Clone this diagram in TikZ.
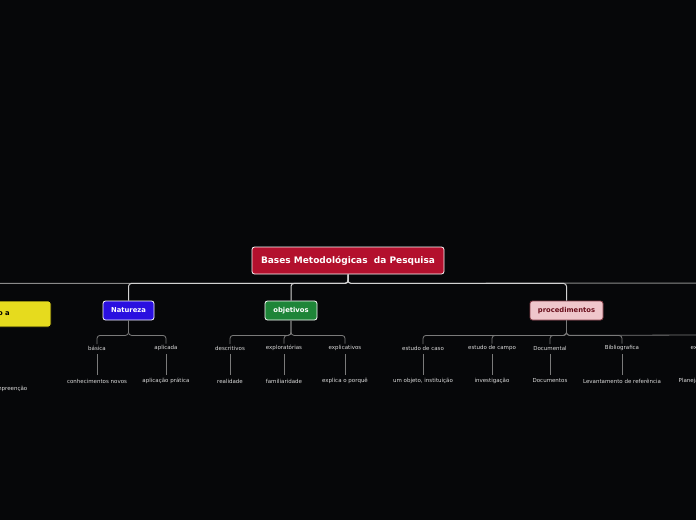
\documentclass[tikz,border=0pt]{standalone}
\usepackage{fontspec}
\setmainfont{DejaVu Sans}
\usetikzlibrary{positioning}
\definecolor{fundo}{HTML}{060709}
\definecolor{vermelho}{HTML}{B3102D}
\definecolor{azul}{HTML}{2A10E0}
\definecolor{verde}{HTML}{1E8538}
\definecolor{rosa}{HTML}{EFC6CB}
\definecolor{vinho}{HTML}{6A0F1C}
\definecolor{amarelo}{HTML}{E6DB1E}
\definecolor{linhaClara}{HTML}{D2D2D2}
\definecolor{linhaEsc}{HTML}{8A8A8A}
\definecolor{linhaSub}{HTML}{7A7A7A}
\definecolor{textoCinza}{HTML}{DCDCDC}
\tikzset{
  raiz/.style={draw=white, line width=0.8pt, rounded corners=2.5pt, fill=vermelho, text=white,
    font=\bfseries\fontsize{9}{10}\selectfont, minimum width=192pt, minimum height=27pt, inner sep=0pt},
  ramo/.style={rounded corners=2.5pt, line width=0.8pt, font=\bfseries\fontsize{6.8}{7.5}\selectfont,
    minimum height=19pt, inner sep=0pt},
  folha/.style={text=textoCinza, font=\fontsize{5.5}{6.5}\selectfont, inner sep=1.5pt},
  liga/.style={draw=linhaClara, line width=1pt, rounded corners=3pt},
  ligaEsc/.style={draw=linhaEsc, line width=1pt, rounded corners=3pt},
  sub/.style={draw=linhaSub, line width=0.8pt, rounded corners=3pt},
  desce/.style={draw=linhaSub, line width=0.8pt, shorten <=2pt, shorten >=2pt}
}
\begin{document}
\begin{tikzpicture}[x=1pt,y=-1pt]
  \useasboundingbox (0,0) rectangle (696,520);
  \fill[fundo] (0,0) rectangle (696,520);
  \clip (0,0) rectangle (696,520);

  % Tema central
  \node[raiz] (raiz) at (348,260.5) {Bases Metodológicas\ \ da Pesquisa};

  % Ramos principais
  \node[ramo, draw=black, fill=amarelo, text=black, minimum width=120pt, minimum height=26pt]
    (amar) at (-9,314) {\hspace*{26pt}o a};
  \node[ramo, draw=white, fill=azul, text=white, minimum width=51pt] (nat) at (128.5,310.5) {Natureza};
  \node[ramo, draw=white, fill=verde, text=white, minimum width=52pt] (obj) at (291,310.5) {objetivos};
  \node[ramo, draw=vinho!80, fill=rosa, text=vinho, minimum width=73pt] (proc) at (566.5,310.5) {procedimentos};
  \coordinate (dir) at (700,283);

  % Ligações do tema aos ramos
  \draw[ligaEsc] (raiz.south) -- ++(0,9) -| (amar.north);
  \draw[ligaEsc] (raiz.south) -- ++(0,9) -- (dir);
  \foreach \r in {nat, obj, proc}
    \draw[liga] (raiz.south) -- ++(0,9) -| (\r.north);

  % Natureza
  \node[folha] (bas) at (97,348) {básica};
  \node[folha] (apl) at (166,348) {aplicada};
  \node[folha] (conh) at (97,381) {conhecimentos novos};
  \node[folha] (prat) at (166,381) {aplicação prática};

  % objetivos
  \node[folha] (desc) at (230,348) {descritivos};
  \node[folha] (expl) at (284,348) {exploratórias};
  \node[folha] (expc) at (345,348) {explicativos};
  \node[folha] (real) at (230,381) {realidade};
  \node[folha] (fami) at (284,381) {familiaridade};
  \node[folha] (porq) at (345,381) {explica o porquê};

  % procedimentos
  \node[folha] (caso) at (423,348) {estudo de caso};
  \node[folha] (campo) at (492,348) {estudo de campo};
  \node[folha] (docl) at (550,348) {Documental};
  \node[folha] (bibl) at (622,348) {Bibliografica};
  \node[folha, anchor=west] (ex) at (689,348) {ex};
  \node[folha] (inst) at (423,381) {um objeto, instituição};
  \node[folha] (inve) at (492,381) {investigação};
  \node[folha] (docs) at (550,381) {Documentos};
  \node[folha] (leva) at (622,381) {Levantamento de referência};
  \node[folha, anchor=west] (plan) at (677,381) {Planeja};
  \coordinate (procDir) at (700,335);

  % ramo amarelo (cortado)
  \node[folha, anchor=east] (comp) at (29,389) {mpreenção};

  % Ligações aos subtópicos
  \foreach \p/\f in {nat/bas, nat/apl, obj/desc, obj/expl, obj/expc,
                     proc/caso, proc/campo, proc/docl, proc/bibl}
    \draw[sub] (\p.south) -- ++(0,15) -| (\f.north);
  \draw[sub] (proc.south) -- ++(0,15) -- (procDir);

  \foreach \a/\b in {bas/conh, apl/prat, desc/real, expl/fami, expc/porq,
                     caso/inst, campo/inve, docl/docs, bibl/leva}
    \draw[desce] (\a) -- (\b);
\end{tikzpicture}
\end{document}
